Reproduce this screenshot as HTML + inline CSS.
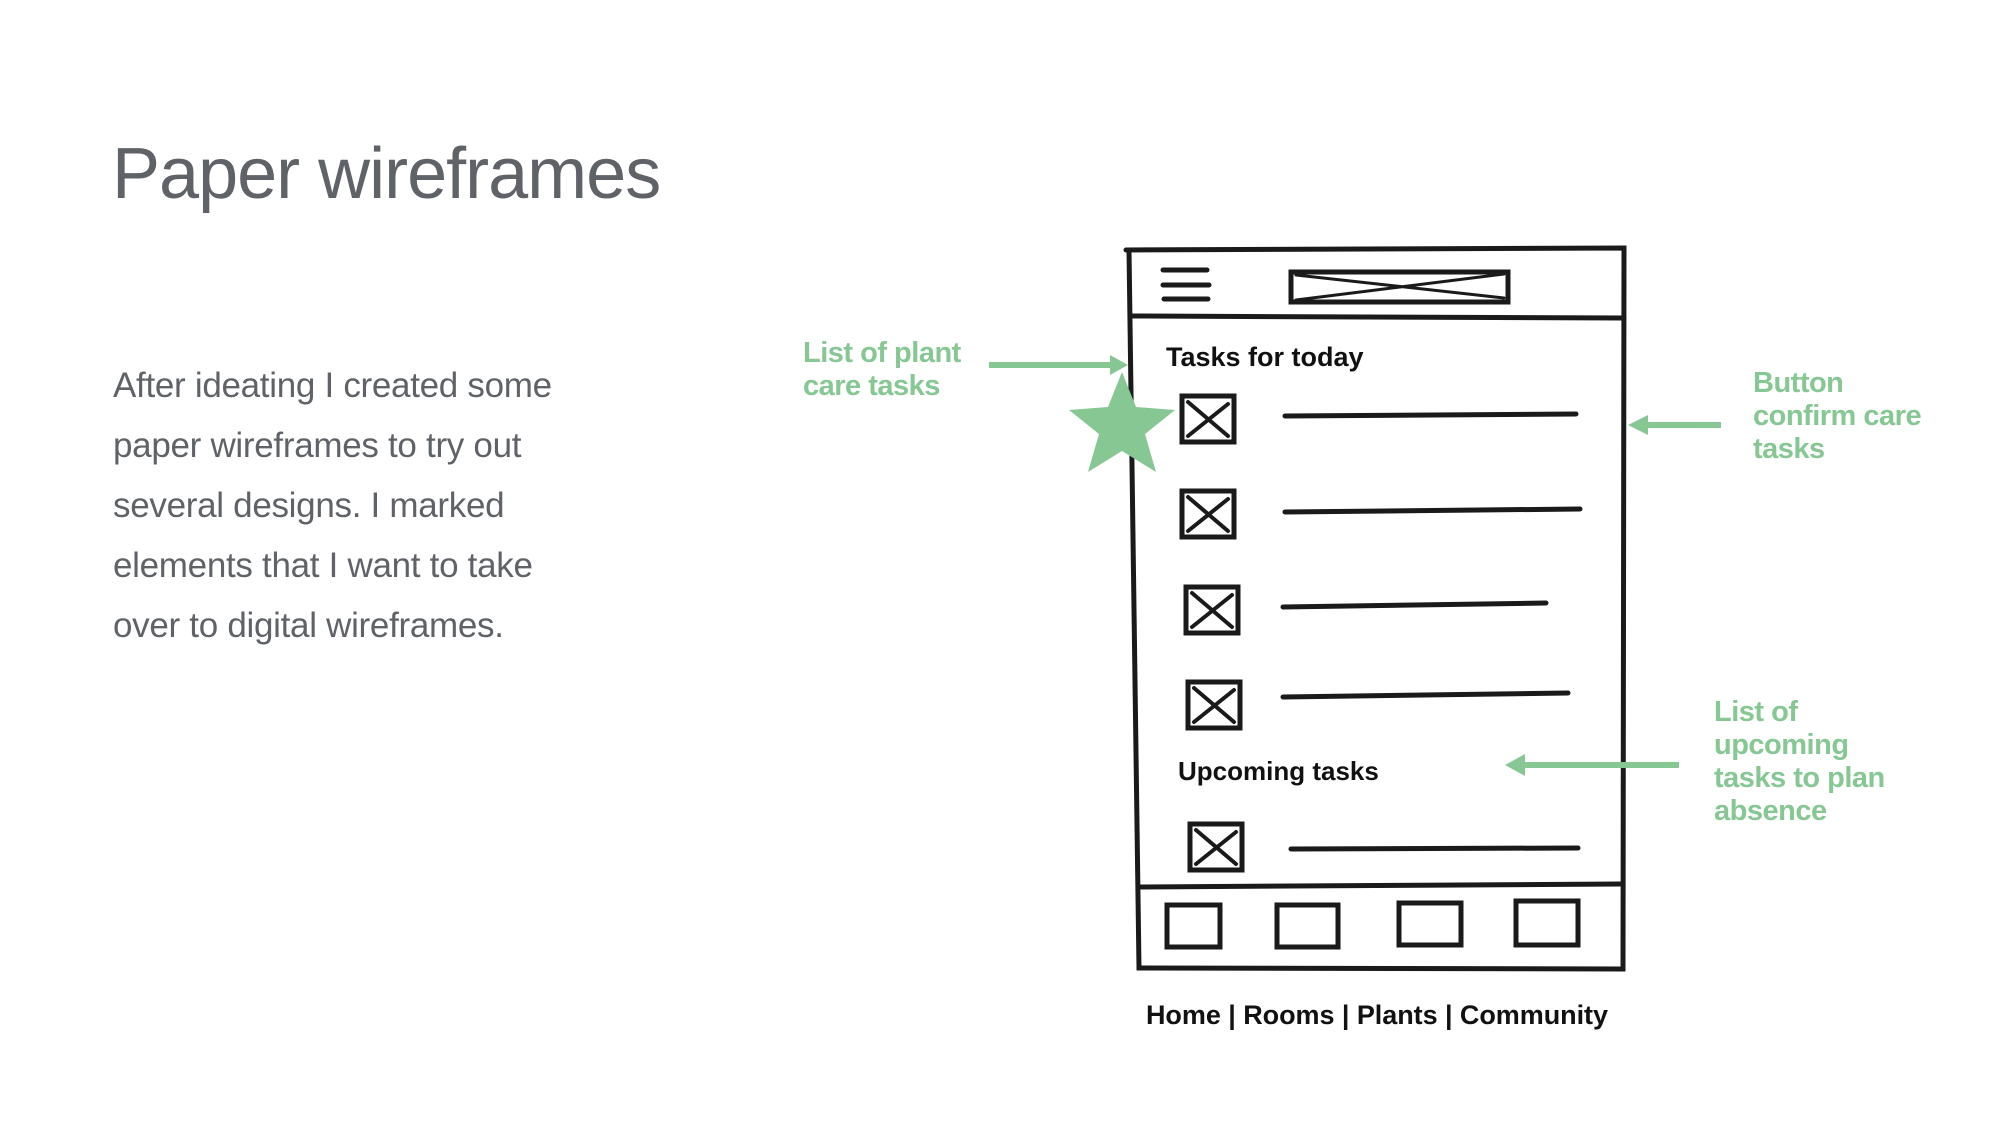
<!DOCTYPE html>
<html><head><meta charset="utf-8"><style>
body{margin:0;width:2000px;height:1125px;background:#fff;position:relative;overflow:hidden;font-family:"Liberation Sans",sans-serif}
.t{position:absolute;white-space:nowrap}
.title{left:112px;top:133px;font-size:72px;color:#5f6368;letter-spacing:-1px}
.body{left:113px;top:356px;font-size:35px;line-height:60px;color:#5f6368;letter-spacing:-0.3px}
.g{color:#86c793;font-weight:bold;font-size:29px;line-height:33px;letter-spacing:-0.5px}
</style></head><body>
<div class="t title">Paper wireframes</div>
<div class="t body">After ideating I created some<br>paper wireframes to try out<br>several designs. I marked<br>elements that I want to take<br>over to digital wireframes.</div>
<div class="t g" style="left:803px;top:337px">List of plant<br>care tasks</div>
<div class="t g" style="left:1753px;top:367px">Button<br>confirm care<br>tasks</div>
<div class="t g" style="left:1714px;top:696px">List of<br>upcoming<br>tasks to plan<br>absence</div>
<svg width="2000" height="1125" style="position:absolute;left:0;top:0" font-family="Liberation Sans, sans-serif">
<g transform="translate(-4,0)">
<g stroke="#1a1a1a" stroke-width="5" fill="none" stroke-linecap="round">
<path d="M1130 250 L1628 248 L1627 969 L1143 968 L1133 250"/>
<path d="M1135 316 L1628 318"/>
<path d="M1142 887 L1624 884"/>
<path d="M1167 270 L1211 270 M1167 285 L1213 285 M1168 299 L1212 299"/>
<rect x="1295" y="272" width="217" height="30"/>
<path d="M1300 275 L1508 298 M1300 300 L1508 274" stroke-width="3"/>
<g id="cb"><rect x="1186" y="396" width="52" height="46"/><path d="M1192 402 L1232 436 M1192 436 L1232 404" stroke-width="4"/></g>
<use href="#cb" y="95"/><use href="#cb" x="4" y="191"/><use href="#cb" x="6" y="286"/><use href="#cb" x="8" y="428"/>
<path d="M1289 416 L1580 414 M1289 512 L1584 509 M1287 607 L1550 603 M1287 697 L1572 693 M1295 849 L1582 848"/>
<rect x="1171" y="905" width="53" height="42"/><rect x="1281" y="905" width="61" height="42"/><rect x="1403" y="903" width="62" height="42"/><rect x="1520" y="901" width="62" height="44"/>
</g>
<g fill="#111" font-weight="bold">
<text x="1170" y="366" font-size="27">Tasks for today</text>
<text x="1182" y="780" font-size="26">Upcoming tasks</text>
<text x="1150" y="1024" font-size="27" textLength="462">Home | Rooms | Plants | Community</text>
</g>
</g>
<g fill="#86c793" stroke="#86c793">
<path d="M989 365 L1112 365" stroke-width="6"/><path d="M1110 355 L1128 365 L1110 375Z" stroke="none"/>
<path d="M1721 425 L1645 425" stroke-width="6"/><path d="M1648 415 L1628 425 L1648 435Z" stroke="none"/>
<path d="M1679 765 L1522 765" stroke-width="6"/><path d="M1525 754 L1505 765 L1525 776Z" stroke="none"/>
<path stroke="none" d="M1122 372 L1136 407 L1175 410 L1145 434 L1156 472 L1122 451 L1088 472 L1099 434 L1069 410 L1108 407Z"/>
</g>
</svg>
</body></html>
